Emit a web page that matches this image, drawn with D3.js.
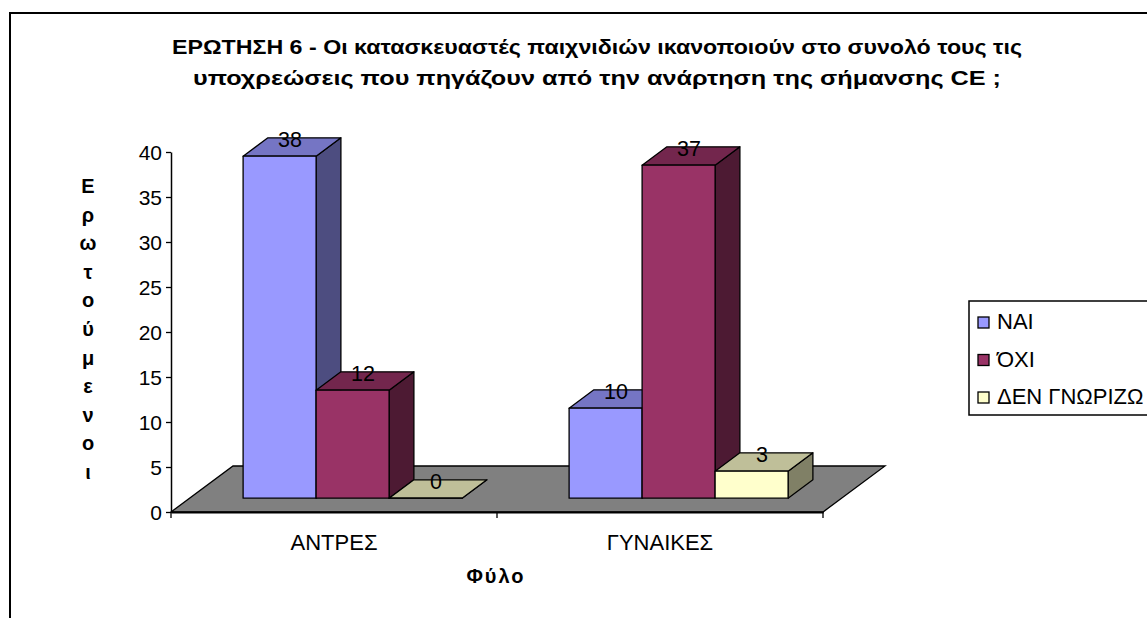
<!DOCTYPE html>
<html><head><meta charset="utf-8">
<script src="https://cdn.jsdelivr.net/npm/d3@7"></script>
<style>
html,body{margin:0;padding:0;background:#fff;}
svg{display:block;font-family:"Liberation Sans",Arial,sans-serif;}
</style></head>
<body>
<svg id="chart" width="1147" height="618"></svg>
<script>
const categories = ["ΑΝΤΡΕΣ", "ΓΥΝΑΙΚΕΣ"];
const seriesNames = ["ΝΑΙ", "ΌΧΙ", "ΔΕΝ ΓΝΩΡΙΖΩ"];
const naiValues = [38, 10];
const oxiValues = [12, 37];
const denValues = [0, 3];
const yTicks = [0, 5, 10, 15, 20, 25, 30, 35, 40];
const titleLines = [
  "ΕΡΩΤΗΣΗ 6 - Οι κατασκευαστές παιχνιδιών ικανοποιούν στο συνολό τους τις",
  "υποχρεώσεις που πηγάζουν από την ανάρτηση της σήμανσης CE ;"
];
const yAxisTitle = "Ερωτούμενοι";
const xAxisTitle = "Φύλο";
const seriesColors = [
  {front: "#9999FF", top: "#7575C4", side: "#4D4D80"},
  {front: "#993366", top: "#73264D", side: "#4D1A33"},
  {front: "#FFFFCC", top: "#BFBF99", side: "#808066"}
];

const seriesValues = [naiValues, oxiValues, denValues];
const svg = d3.select("#chart");

// outer chart border
svg.append("rect").attr("x", 10).attr("y", 13).attr("width", 1300).attr("height", 800)
  .attr("fill", "#fff").attr("stroke", "#000").attr("stroke-width", 2);

// 3D geometry
const left = 171, right = 823, base = 512;
const depthX = 62, depthY = -46;
const zFront = 0.3, zBack = 0.7;

const x0 = d3.scaleBand().domain(categories).range([left, right]).paddingInner(0).paddingOuter(0);
const x1 = d3.scaleBand().domain(seriesNames).range([0, x0.bandwidth()]).paddingInner(0).paddingOuter(0.733);
const y = d3.scaleLinear().domain([0, 40]).range([base, base - 360]);

const proj = (px, val, z) => [px + z * depthX, y(val) + z * depthY];

// floor
const floorPts = [proj(left, 0, 0), proj(left, 0, 1), proj(right, 0, 1), proj(right, 0, 0)];
svg.append("polygon").attr("points", floorPts.map(p => p.join(",")).join(" "))
  .attr("fill", "#808080").attr("stroke", "#000").attr("stroke-width", 1.3);

// bars
const barData = [];
categories.forEach((c, ci) => {
  seriesNames.forEach((s, si) => {
    barData.push({cat: c, ser: s, si, value: seriesValues[si][ci]});
  });
});

const gBars = svg.append("g");
barData.forEach(d => {
  const xa = x0(d.cat) + x1(d.ser), xb = xa + x1.bandwidth();
  const col = seriesColors[d.si];
  const F = (px, v, z) => proj(px, v, z).join(",");
  const front = [F(xa, 0, zFront), F(xa, d.value, zFront), F(xb, d.value, zFront), F(xb, 0, zFront)];
  const top = [F(xa, d.value, zFront), F(xa, d.value, zBack), F(xb, d.value, zBack), F(xb, d.value, zFront)];
  const side = [F(xb, 0, zFront), F(xb, d.value, zFront), F(xb, d.value, zBack), F(xb, 0, zBack)];
  const g = gBars.append("g");
  g.append("polygon").attr("points", side.join(" ")).attr("fill", col.side).attr("stroke", "#000").attr("stroke-width", 1.3).attr("stroke-linejoin", "round");
  g.append("polygon").attr("points", top.join(" ")).attr("fill", col.top).attr("stroke", "#000").attr("stroke-width", 1.3).attr("stroke-linejoin", "round");
  g.append("polygon").attr("points", front.join(" ")).attr("fill", col.front).attr("stroke", "#000").attr("stroke-width", 1.3).attr("stroke-linejoin", "round");
});

// value labels
barData.forEach(d => {
  const xa = x0(d.cat) + x1(d.ser);
  const c = proj(xa + x1.bandwidth() / 2, d.value, (zFront + zBack) / 2);
  svg.append("text").attr("x", c[0] - 2).attr("y", c[1] + 0)
    .attr("text-anchor", "middle").attr("font-size", 21.5).attr("fill", "#000").text(d.value);
});

// y axis
const yAxis = d3.axisLeft(y).tickValues(yTicks).tickSize(5).tickPadding(4).tickSizeOuter(0);
const gy = svg.append("g").attr("transform", `translate(${left},0)`).call(yAxis);
gy.select(".domain").attr("stroke", "#000").attr("stroke-width", 1.5);
gy.selectAll(".tick line").attr("stroke", "#000").attr("stroke-width", 1.3);
gy.selectAll(".tick text").attr("font-size", 21).attr("font-family", "Liberation Sans, Arial, sans-serif").attr("fill", "#000").attr("dy", "0.36em");

// x axis (front edge)
const xAxis = d3.axisBottom(x0).tickSize(0).tickPadding(22);
const gx = svg.append("g").attr("transform", `translate(0,${base})`).call(xAxis);
gx.select(".domain").attr("stroke", "#000").attr("stroke-width", 2);
gx.selectAll(".tick text").attr("font-size", 22).attr("font-family", "Liberation Sans, Arial, sans-serif").attr("fill", "#000");
// category boundary ticks
const boundaries = [left].concat(categories.map(c => x0(c) + x0.bandwidth()));
svg.append("g").selectAll("line").data(boundaries).join("line")
  .attr("x1", d => d).attr("x2", d => d).attr("y1", base).attr("y2", base + 6)
  .attr("stroke", "#000").attr("stroke-width", 1.3);

// title
const titleWidths = [850, 808];
svg.append("g").selectAll("text").data(titleLines).join("text")
  .attr("x", 597).attr("y", (d, i) => 54 + i * 31)
  .attr("text-anchor", "middle").attr("font-weight", "bold").attr("font-size", 20)
  .attr("textLength", (d, i) => titleWidths[i]).attr("lengthAdjust", "spacingAndGlyphs")
  .text(d => d);

// y axis title (stacked letters)
const yLetters = Array.from(yAxisTitle);
svg.append("g").selectAll("text").data(yLetters).join("text")
  .attr("x", 88).attr("y", (d, i) => 193 + i * 28.6)
  .attr("text-anchor", "middle").attr("font-weight", "bold").attr("font-size", 20)
  .text(d => d);

// x axis title
svg.append("text").attr("x", 496).attr("y", 583).attr("text-anchor", "middle")
  .attr("font-weight", "bold").attr("font-size", 20).attr("letter-spacing", 2).text(xAxisTitle);

// legend
const lg = svg.append("g");
lg.append("rect").attr("x", 969).attr("y", 301).attr("width", 300).attr("height", 114)
  .attr("fill", "#fff").attr("stroke", "#000").attr("stroke-width", 1.5);
seriesNames.forEach((s, i) => {
  const yy = 317 + i * 37.5;
  lg.append("rect").attr("x", 978).attr("y", yy).attr("width", 11).attr("height", 11)
    .attr("fill", seriesColors[i].front).attr("stroke", "#000").attr("stroke-width", 1.3);
  lg.append("text").attr("x", 997).attr("y", yy + 12).attr("font-size", 22).text(s);
});
</script>
</body></html>
